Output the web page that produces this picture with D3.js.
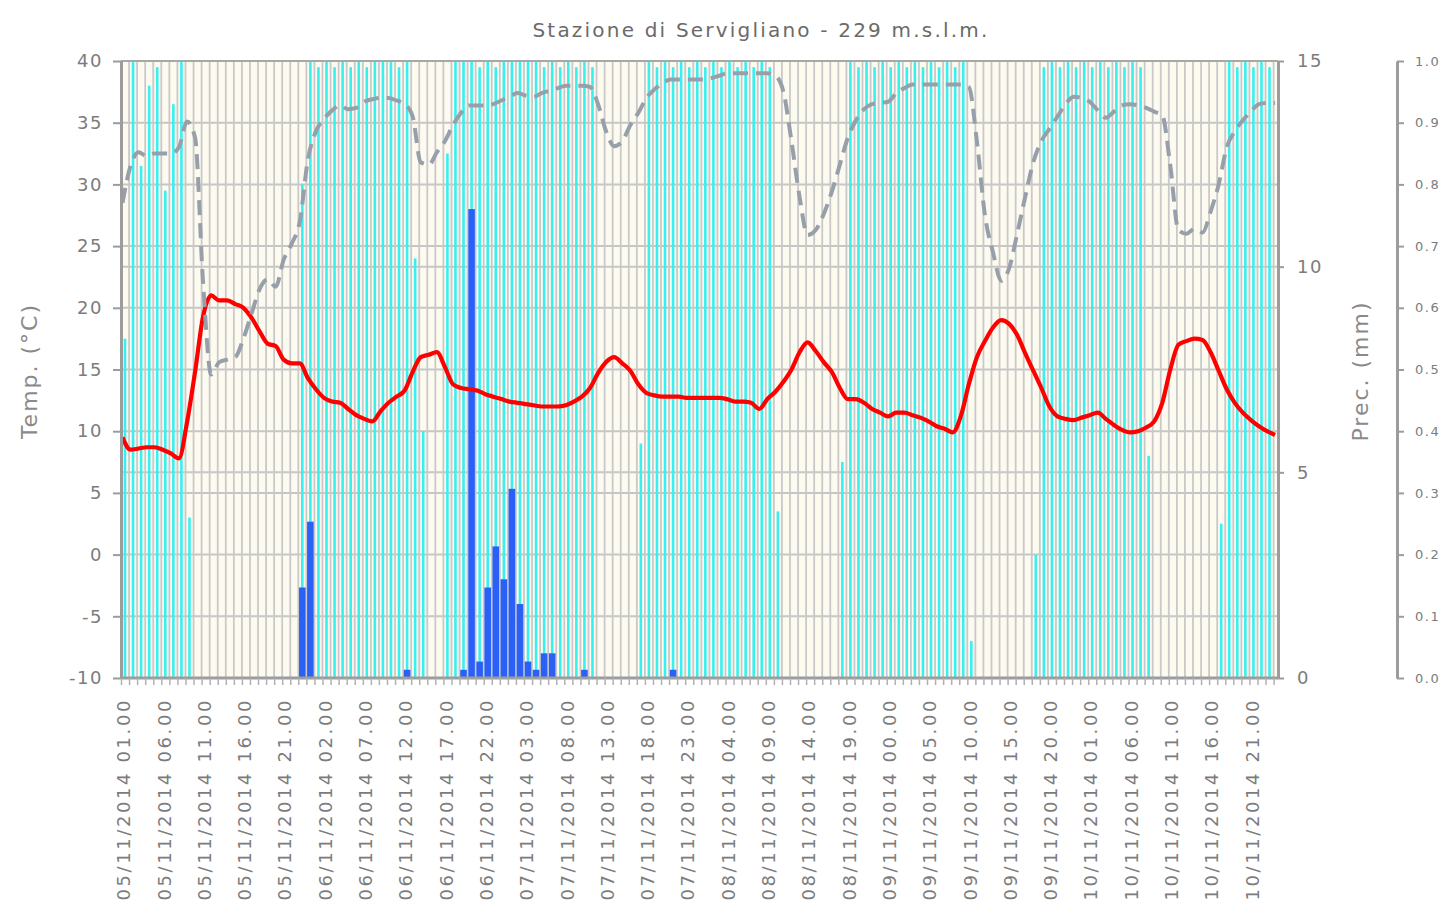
<!DOCTYPE html>
<html>
<head>
<meta charset="utf-8" />
<script src="https://d3js.org/d3.v7.min.js"></script>
<title>Stazione di Servigliano</title>
<style>
  body { margin: 0; background: #fff; }
  svg { display: block; }
  text { font-family: "DejaVu Sans", Verdana, sans-serif; fill: #7c7c7c; }
</style>
</head>
<body>
<svg id="chart" width="1443" height="911"></svg>
<script>
// hourly categories, 05/11/2014 01.00 onwards
var start = new Date(2014, 10, 5, 1);
var hours = d3.range(144).map(function(i){ return d3.timeHour.offset(start, i); });
var fmt = d3.timeFormat("%d/%m/%Y %H.00");

// temperature (red line, left axis)
var temp = [
  9.5, 8.5, 8.6, 8.7, 8.7, 8.5, 8.2, 7.8, 10.7, 14.8, 19.3, 21.0,
  20.6, 20.6, 20.3, 20.0, 19.2, 18.1, 17.1, 16.9, 15.8, 15.5, 15.5, 14.3,
  13.4, 12.7, 12.4, 12.3, 11.8, 11.3, 11.0, 10.8, 11.6, 12.3, 12.8, 13.3,
  14.8, 16.0, 16.2, 16.4, 15.2, 13.8, 13.5, 13.4, 13.3, 13.0, 12.8, 12.6,
  12.4, 12.3, 12.2, 12.1, 12.0, 12.0, 12.0, 12.1, 12.4, 12.8, 13.5, 14.7,
  15.6, 16.0, 15.5, 14.9, 13.8, 13.1, 12.9, 12.8, 12.8, 12.8, 12.7, 12.7,
  12.7, 12.7, 12.7, 12.6, 12.4, 12.4, 12.3, 11.8, 12.6, 13.2, 14.0, 15.0,
  16.4, 17.2, 16.5, 15.6, 14.8, 13.5, 12.6, 12.6, 12.3, 11.8, 11.5, 11.2,
  11.5, 11.5, 11.3, 11.1, 10.8, 10.4, 10.2, 9.9, 11.2, 13.8, 16.0, 17.3,
  18.4, 19.0, 18.7, 17.8, 16.3, 14.9, 13.5, 12.0, 11.2, 11.0, 10.9, 11.1,
  11.3, 11.5, 11.0, 10.5, 10.1, 9.9, 10.0, 10.3, 10.8, 12.3, 15.0, 17.0,
  17.3, 17.5, 17.4, 16.4, 14.9, 13.4, 12.3, 11.5, 10.9, 10.4, 10.0, 9.7
];

// grey dashed line (left axis)
var dashed = [
  28.5, 31.5, 32.6, 32.3, 32.5, 32.5, 32.5, 33.0, 35.1, 33.8, 22.0, 14.6,
  15.6, 15.8, 16.0, 17.5, 19.5, 21.5, 22.3, 21.7, 23.9, 25.2, 27.0, 32.0,
  34.3, 35.3, 36.0, 36.4, 36.1, 36.2, 36.7, 36.9, 37.0, 37.0, 36.8, 36.5,
  35.5, 31.8, 31.6, 32.6, 33.5, 34.8, 35.8, 36.4, 36.4, 36.4, 36.5, 36.8,
  37.1, 37.4, 37.2, 37.1, 37.4, 37.6, 37.8, 38.0, 38.0, 38.0, 37.9, 36.5,
  34.3, 33.1, 33.5, 34.8, 35.8, 37.0, 37.7, 38.2, 38.5, 38.5, 38.5, 38.5,
  38.5, 38.6, 38.8, 39.0, 39.0, 39.0, 39.0, 39.0, 39.0, 38.8, 37.5, 33.5,
  29.0, 25.9, 26.3, 27.6, 29.4, 31.6, 33.8, 35.2, 36.1, 36.5, 36.6, 36.7,
  37.4, 37.8, 38.1, 38.1, 38.1, 38.1, 38.1, 38.1, 38.1, 37.9, 33.5, 27.5,
  24.5, 22.2, 23.2, 26.0, 29.0, 31.8, 33.5, 34.5, 35.5, 36.5, 37.1, 37.0,
  36.7, 36.0, 35.4, 35.9, 36.4, 36.5, 36.4, 36.2, 35.9, 35.6, 31.5, 26.3,
  26.0, 26.4, 26.1, 27.8, 30.0, 33.0, 34.3, 35.2, 35.9, 36.5, 36.6, 36.6
];

// cyan bars (0.0 - 1.0 axis)
var wet = [
  0.55, 1.0, 0.83, 0.96, 0.99, 0.79, 0.93, 1.0, 0.26, 0, 0, 0,
  0, 0, 0, 0, 0, 0, 0, 0, 0, 0, 0.8, 1.0,
  0.99, 1.0, 0.99, 1.0, 0.99, 1.0, 0.99, 1.0, 1.0, 1.0, 0.99, 1.0,
  0.68, 0.4, 0, 0, 0.85, 1.0, 1.0, 1.0, 0.99, 1.0, 0.99, 1.0,
  1.0, 1.0, 1.0, 1.0, 0.99, 1.0, 0.99, 1.0, 0.99, 1.0, 0.99, 0,
  0, 0, 0, 0, 0.38, 1.0, 0.99, 1.0, 0.99, 1.0, 0.99, 1.0,
  0.99, 1.0, 0.99, 1.0, 0.99, 1.0, 0.99, 1.0, 0.99, 0.27, 0, 0,
  0, 0, 0, 0, 0, 0.35, 1.0, 0.99, 1.0, 0.99, 1.0, 0.99,
  1.0, 0.99, 1.0, 0.99, 1.0, 0.99, 1.0, 0.99, 1.0, 0.06, 0, 0,
  0, 0, 0, 0, 0, 0.2, 0.99, 1.0, 0.99, 1.0, 0.99, 1.0,
  0.99, 1.0, 0.99, 1.0, 0.99, 1.0, 0.99, 0.36, 0, 0, 0, 0,
  0, 0, 0, 0, 0.25, 1.0, 0.99, 1.0, 0.99, 1.0, 0.99, 0
];

// precipitation mm (blue bars, right axis)
var rain = [
  0, 0, 0, 0, 0, 0, 0, 0, 0, 0, 0, 0,
  0, 0, 0, 0, 0, 0, 0, 0, 0, 0, 2.2, 3.8,
  0, 0, 0, 0, 0, 0, 0, 0, 0, 0, 0, 0.2,
  0, 0, 0, 0, 0, 0, 0.2, 11.4, 0.4, 2.2, 3.2, 2.4,
  4.6, 1.8, 0.4, 0.2, 0.6, 0.6, 0, 0, 0, 0.2, 0, 0,
  0, 0, 0, 0, 0, 0, 0, 0, 0.2, 0, 0, 0,
  0, 0, 0, 0, 0, 0, 0, 0, 0, 0, 0, 0,
  0, 0, 0, 0, 0, 0, 0, 0, 0, 0, 0, 0,
  0, 0, 0, 0, 0, 0, 0, 0, 0, 0, 0, 0,
  0, 0, 0, 0, 0, 0, 0, 0, 0, 0, 0, 0,
  0, 0, 0, 0, 0, 0, 0, 0, 0, 0, 0, 0,
  0, 0, 0, 0, 0, 0, 0, 0, 0, 0, 0, 0
];

var tempTicks = [-10, -5, 0, 5, 10, 15, 20, 25, 30, 35, 40];
var precTicks = [0, 5, 10, 15];
var wetTicks = [0, 0.1, 0.2, 0.3, 0.4, 0.5, 0.6, 0.7, 0.8, 0.9, 1.0];

var L = 121, R = 1278, T = 61, B = 678;
var svg = d3.select("#chart");

var x = d3.scalePoint().domain(d3.range(hours.length)).range([122.5, 1275.1]);
var yT = d3.scaleLinear().domain([-10, 40]).range([B, T]);
var yP = d3.scaleLinear().domain([0, 15]).range([B, T]);
var yW = d3.scaleLinear().domain([0, 1]).range([B, T]);

svg.append("defs").append("clipPath").attr("id", "plotclip")
  .append("rect").attr("x", L).attr("y", T - 4).attr("width", R - L).attr("height", B - T + 4);

// plot background
svg.append("rect").attr("x", L).attr("y", T).attr("width", R - L).attr("height", B - T)
  .attr("fill", "#fdfaf0");

var plot = svg.append("g").attr("clip-path", "url(#plotclip)");

// horizontal grid (temp ticks + prec ticks)
plot.selectAll("line.hg").data(tempTicks).enter().append("line")
  .attr("class", "hg")
  .attr("x1", L).attr("x2", R)
  .attr("y1", function(d){ return yT(d); }).attr("y2", function(d){ return yT(d); })
  .attr("stroke", "#c6c6c6").attr("stroke-width", 2);
plot.selectAll("line.hp").data([5, 10]).enter().append("line")
  .attr("class", "hp")
  .attr("x1", L).attr("x2", R)
  .attr("y1", function(d){ return yP(d); }).attr("y2", function(d){ return yP(d); })
  .attr("stroke", "#c6c6c6").attr("stroke-width", 2);

// vertical grid, one per hour
plot.selectAll("line.vg").data(d3.range(1, hours.length)).enter().append("line")
  .attr("class", "vg")
  .attr("x1", function(i){ return x(i) - 1.5; }).attr("x2", function(i){ return x(i) - 1.5; })
  .attr("y1", T).attr("y2", B)
  .attr("stroke", "#c9c9c9").attr("stroke-width", 1.8);

// cyan bars
plot.selectAll("rect.wet").data(wet).enter().append("rect")
  .attr("class", "wet")
  .attr("x", function(d, i){ return x(i) + 2.5 - 1.3; })
  .attr("width", 2.6)
  .attr("y", function(d){ return yW(d); })
  .attr("height", function(d){ return B - yW(d); })
  .attr("fill", "#38f0f0");

// precipitation bars
plot.selectAll("rect.rain").data(rain).enter().append("rect")
  .attr("class", "rain")
  .attr("x", function(d, i){ return x(i) + 2.5 - 3.3; })
  .attr("width", 6.6)
  .attr("y", function(d){ return yP(d); })
  .attr("height", function(d){ return B - yP(d); })
  .attr("fill", "#2a60f6");

// temperature line
var lineT = d3.line()
  .x(function(d, i){ return x(i); })
  .y(function(d){ return yT(d); })
  .curve(d3.curveMonotoneX);
plot.append("path").datum(temp)
  .attr("d", lineT)
  .attr("fill", "none").attr("stroke", "#ff0000").attr("stroke-width", 4.2)
  .attr("stroke-linejoin", "round");

// grey dashed line
plot.append("path").datum(dashed)
  .attr("d", lineT)
  .attr("fill", "none").attr("stroke", "#97a0aa").attr("stroke-width", 4)
  .attr("stroke-dasharray", "15,8");

// top border
svg.append("line").attr("x1", L).attr("x2", R).attr("y1", T).attr("y2", T)
  .attr("stroke", "#a8a8a8").attr("stroke-width", 2);

function styleAxis(g, size) {
  g.select(".domain").attr("stroke", "#9c9c9c").attr("stroke-width", 3);
  g.selectAll(".tick line").attr("stroke", "#9c9c9c").attr("stroke-width", 2);
  g.selectAll(".tick text").attr("fill", "#7c7c7c")
    .style("font-size", size + "px").style("font-family", "DejaVu Sans, sans-serif");
}

var plain = function(d){ return String(d); };

// left temp axis
var gL = svg.append("g").attr("transform", "translate(" + L + ",0)")
  .call(d3.axisLeft(yT).tickValues(tempTicks).tickFormat(plain)
    .tickSize(8).tickSizeOuter(0).tickPadding(10));
styleAxis(gL, 18);
gL.selectAll(".tick text").style("letter-spacing", "1.5px");

// right prec axis
var gR = svg.append("g").attr("transform", "translate(" + R + ",0)")
  .call(d3.axisRight(yP).tickValues(precTicks).tickFormat(plain)
    .tickSize(6).tickSizeOuter(0).tickPadding(13));
styleAxis(gR, 18);
gR.selectAll(".tick text").style("letter-spacing", "1.5px");

// far right 0-1 axis
var gW = svg.append("g").attr("transform", "translate(1397,0)")
  .call(d3.axisRight(yW).tickValues(wetTicks).tickFormat(function(d){ return d.toFixed(1); })
    .tickSize(7).tickSizeOuter(0).tickPadding(11));
styleAxis(gW, 13);
gW.selectAll(".tick text").style("letter-spacing", "1.5px");

// bottom axis, ticks every hour, labels every 5 hours
var gB = svg.append("g").attr("transform", "translate(0," + B + ")")
  .call(d3.axisBottom(x).tickSize(7).tickSizeOuter(0)
    .tickFormat(function(i){ return i % 5 === 0 ? fmt(hours[i]) : ""; }));
styleAxis(gB, 18);
gB.select(".domain").attr("d", "M" + L + ",0H" + R);
gB.selectAll(".tick line").attr("stroke", "#b0b0b0").attr("stroke-width", 1.5)
  .attr("transform", "translate(-1.5,0)");
gB.selectAll(".tick text")
  .attr("transform", "rotate(-90)")
  .attr("text-anchor", "end")
  .attr("x", -20).attr("y", 0).attr("dy", "0.4em")
  .style("letter-spacing", "2.6px");

// titles
svg.append("text").attr("x", 761).attr("y", 37).attr("text-anchor", "middle")
  .style("font-size", "20px").style("letter-spacing", "2.2px")
  .style("fill", "#6a6a6a")
  .text("Stazione di Servigliano - 229 m.s.l.m.");

svg.append("text").attr("transform", "translate(37,371) rotate(-90)")
  .attr("text-anchor", "middle").style("font-size", "22px").style("letter-spacing", "2px")
  .style("fill", "#8a8a8a")
  .text("Temp. (°C)");

svg.append("text").attr("transform", "translate(1368,371) rotate(-90)")
  .attr("text-anchor", "middle").style("font-size", "22px").style("letter-spacing", "2px")
  .style("fill", "#8a8a8a")
  .text("Prec. (mm)");
</script>
</body>
</html>
